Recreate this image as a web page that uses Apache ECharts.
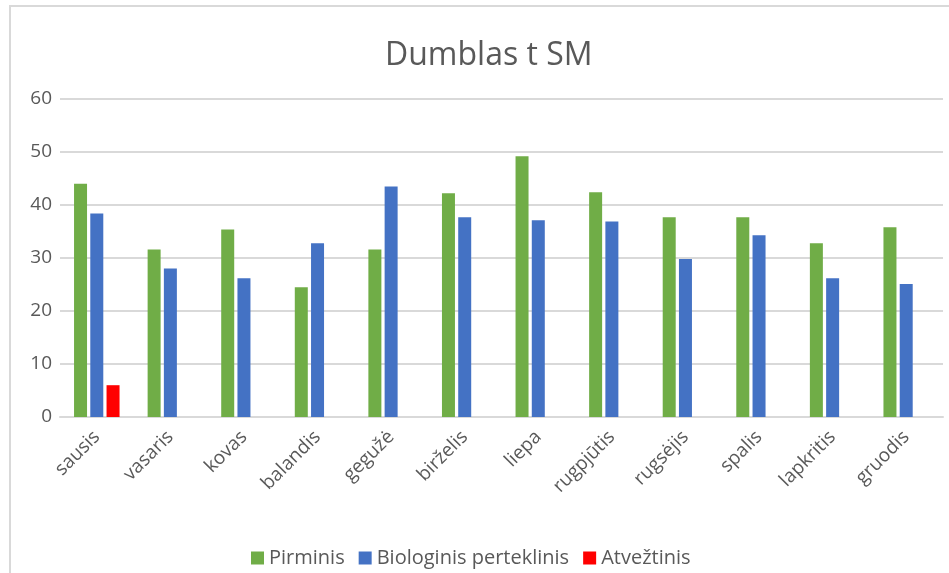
<!DOCTYPE html>
<html>
<head>
<meta charset="utf-8">
<script src="https://cdn.jsdelivr.net/npm/echarts@6/dist/echarts.min.js"></script>
<style>
* { margin: 0; padding: 0; }
body { background: #fff; }
</style>
</head>
<body>
<div id="chartId" style="width: 949px;height: 573px;"></div>
<script>
// menesiai
const months = ["sausis", "vasaris", "kovas", "balandis", "gegužė", "birželis",
  "liepa", "rugpjūtis", "rugsėjis", "spalis", "lapkritis", "gruodis"];
const seriesNames = ["Pirminis", "Biologinis perteklinis", "Atvežtinis"];
const pirminis = [44.0, 31.6, 35.4, 24.5, 31.6, 42.2, 49.2, 42.4, 37.7, 37.7, 32.8, 35.8];
const biologinis = [38.4, 28.0, 26.2, 32.8, 43.5, 37.7, 37.1, 36.9, 29.8, 34.3, 26.2, 25.1];
const atveztinis = [6.0, null, null, null, null, null, null, null, null, null, null, null];
const yTicks = [0, 10, 20, 30, 40, 50, 60];

const fontFamily = "'Open Sans', 'Noto Sans', sans-serif";
const textColor = "#595959";

let chart = echarts.init(document.getElementById("chartId"));
let option = {
  animation: false,
  backgroundColor: "#fff",
  color: ["#70ad47", "#4472c4", "#ff0000"],
  title: {
    text: "Dumblas t SM",
    left: 380,
    top: 35,
    textStyle: { color: textColor, fontSize: 32, fontWeight: "normal", fontFamily: fontFamily }
  },
  // remelis aplink diagrama
  graphic: [{
    type: "rect",
    shape: { x: 10, y: 6, width: 960, height: 600 },
    style: { fill: null, stroke: "#d9d9d9", lineWidth: 2 },
    silent: true
  }],
  legend: {
    data: seriesNames,
    bottom: 0,
    left: 246,
    itemWidth: 13,
    itemHeight: 13,
    itemGap: 14,
    icon: "rect",
    textStyle: { color: textColor, fontSize: 20, fontFamily: fontFamily }
  },
  grid: {
    left: 60,
    right: 6,
    top: 99,
    bottom: 156
  },
  xAxis: {
    type: "category",
    data: months,
    axisLine: { show: true, lineStyle: { color: "#d9d9d9", width: 2 } },
    axisTick: { show: false },
    axisLabel: {
      rotate: 45,
      interval: 0,
      color: textColor,
      fontSize: 19,
      fontFamily: fontFamily,
      margin: 17
    }
  },
  yAxis: {
    type: "value",
    min: yTicks[0],
    max: yTicks[yTicks.length - 1],
    interval: 10,
    axisLine: { show: false },
    axisTick: { show: false },
    splitLine: { lineStyle: { color: "#d9d9d9", width: 2 } },
    axisLabel: { color: textColor, fontSize: 19, fontFamily: fontFamily, margin: 8 }
  },
  series: [
    { name: seriesNames[0], type: "bar", data: pirminis, barWidth: 13, barGap: "25%" },
    { name: seriesNames[1], type: "bar", data: biologinis, barWidth: 13, barGap: "25%" },
    { name: seriesNames[2], type: "bar", data: atveztinis, barWidth: 13, barGap: "25%" }
  ]
};
chart.setOption(option);
</script>
</body>
</html>
